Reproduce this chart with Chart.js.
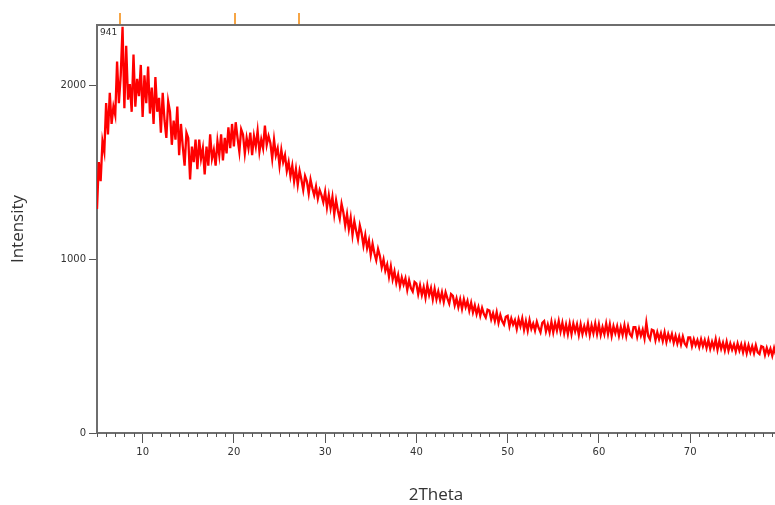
<!DOCTYPE html>
<html>
<head>
<meta charset="utf-8">
<script src="https://cdn.jsdelivr.net/npm/chart.js@4.4.0/dist/chart.umd.min.js"></script>
<style>
  html, body { margin: 0; padding: 0; background: #fff; }
  #wrap { width: 775px; height: 505px; }
</style>
</head>
<body>
<div id="wrap"><canvas id="xrdChart"></canvas></div>
<script>
// scan grid (degrees 2Theta)
const startAngle = 5;
const stepAngle = 0.2;

// intensity, 5 points per degree (5.0 .. 79.4)
const intensity = [
  1290, 1560, 1450, 1680, 1620,   // 5
  1900, 1720, 1960, 1780, 1880,   // 6
  1830, 2140, 1900, 2060, 2340,   // 7
  1870, 2230, 1920, 2010, 1850,   // 8
  2180, 1880, 2040, 1940, 2120,   // 9
  1820, 2060, 1900, 2110, 1840,   // 10
  1990, 1780, 2050, 1850, 1930,   // 11
  1730, 1960, 1800, 1700, 1910,   // 12
  1850, 1660, 1800, 1690, 1880,   // 13
  1600, 1780, 1650, 1540, 1730,   // 14
  1700, 1460, 1650, 1560, 1690,   // 15
  1520, 1690, 1580, 1640, 1490,   // 16
  1650, 1540, 1720, 1580, 1630,   // 17
  1540, 1680, 1600, 1720, 1570,   // 18
  1700, 1610, 1760, 1640, 1780,   // 19
  1650, 1790, 1700, 1620, 1750,   // 20
  1720, 1610, 1700, 1640, 1730,   // 21
  1600, 1710, 1650, 1740, 1620,   // 22
  1690, 1640, 1770, 1660, 1710,   // 23
  1670, 1580, 1690, 1600, 1640,   // 24
  1540, 1630, 1560, 1600, 1510,   // 25
  1560, 1480, 1540, 1450, 1520,   // 26
  1430, 1510, 1460, 1400, 1480,   // 27
  1450, 1380, 1460, 1410, 1370,   // 28
  1420, 1350, 1400, 1370, 1330,   // 29
  1390, 1300, 1370, 1295, 1360,   // 30
  1260, 1340, 1280, 1235, 1320,   // 31
  1270, 1195, 1260, 1175, 1240,   // 32
  1140, 1220, 1165, 1115, 1195,   // 33
  1150, 1080, 1140, 1065, 1110,   // 34
  1025, 1090, 1035, 995, 1060,    // 35
  1020, 955, 1000, 935, 970,      // 36
  900, 960, 885, 930, 865,        // 37
  910, 845, 895, 855, 890,        // 38
  825, 880, 835, 815, 870,        // 39
  860, 800, 850, 795, 840,        // 40
  780, 850, 795, 835, 770,        // 41
  830, 770, 815, 765, 810,        // 42
  755, 810, 775, 745, 800,        // 43
  790, 735, 775, 725, 770,        // 44
  715, 770, 725, 760, 705,        // 45
  750, 695, 735, 685, 725,        // 46
  675, 720, 685, 665, 710,        // 47
  705, 655, 690, 645, 695,        // 48
  635, 680, 645, 625, 670,        // 49
  675, 615, 660, 625, 650,        // 50
  600, 655, 615, 660, 595,        // 51
  645, 590, 650, 600, 630,        // 52
  590, 640, 605, 580, 635,        // 53
  645, 585, 625, 580, 640,        // 54
  580, 635, 590, 645, 585,        // 55
  635, 575, 625, 570, 630,        // 56
  570, 630, 585, 625, 565,        // 57
  625, 570, 615, 575, 630,        // 58
  565, 620, 575, 630, 570,        // 59
  625, 565, 610, 570, 630,        // 60
  570, 625, 560, 615, 575,        // 61
  615, 560, 610, 565, 620,        // 62
  560, 615, 570, 555, 610,        // 63
  610, 555, 600, 560, 595,        // 64
  545, 635, 560, 540, 595,        // 65
  590, 535, 580, 540, 575,        // 66
  530, 580, 525, 570, 535,        // 67
  570, 520, 560, 515, 555,        // 68
  510, 555, 515, 500, 550,        // 69
  550, 500, 540, 505, 535,        // 70
  495, 540, 500, 535, 490,        // 71
  535, 485, 525, 490, 540,        // 72
  480, 530, 485, 520, 475,        // 73
  525, 475, 515, 480, 510,        // 74
  470, 515, 475, 510, 465,        // 75
  510, 460, 505, 465, 500,        // 76
  460, 505, 465, 455, 500,        // 77
  495, 450, 490, 455, 485,        // 78
  445, 490, 450                   // 79
];

const xTickValues = [10, 20, 30, 40, 50, 60, 70];
const yTickValues = [0, 1000, 2000];
const peakMarkers = [7.53, 20.14, 27.18];   // orange reference lines above the frame
const sampleLabel = '941';

const points = intensity.map((v, i) => ({ x: startAngle + i * stepAngle, y: v }));

// frame top, minor ticks, peak markers and sample label
const decorPlugin = {
  id: 'decor',
  afterDraw(chart) {
    const ctx = chart.ctx;
    const area = chart.chartArea;
    const xs = chart.scales.x;
    ctx.save();
    // top border
    ctx.strokeStyle = '#6e6e6e';
    ctx.lineWidth = 2;
    ctx.beginPath();
    ctx.moveTo(area.left - 1, area.top);
    ctx.lineTo(area.right, area.top);
    ctx.stroke();
    // minor ticks every degree
    ctx.lineWidth = 1;
    ctx.strokeStyle = '#555';
    for (let d = Math.ceil(xs.min); d <= xs.max; d++) {
      if (d % 10 === 0) continue;
      const px = Math.round(xs.getPixelForValue(d)) + 0.5;
      ctx.beginPath();
      ctx.moveTo(px, area.bottom);
      ctx.lineTo(px, area.bottom + 4);
      ctx.stroke();
    }
    // peak markers
    ctx.strokeStyle = '#f6a545';
    ctx.lineWidth = 2;
    peakMarkers.forEach(a => {
      const px = Math.round(xs.getPixelForValue(a));
      ctx.beginPath();
      ctx.moveTo(px, area.top - 12);
      ctx.lineTo(px, area.top - 1);
      ctx.stroke();
    });
    // sample label
    ctx.fillStyle = '#333';
    ctx.font = '9px "DejaVu Sans"';
    ctx.textBaseline = 'top';
    ctx.fillText(sampleLabel, area.left + 3, area.top + 3);
    ctx.restore();
  }
};

const ctx = document.getElementById('xrdChart').getContext('2d');
new Chart(ctx, {
  type: 'line',
  data: {
    datasets: [{
      label: '941',
      data: points,
      borderColor: '#ff0000',
      borderWidth: 2.3,
      pointRadius: 0,
      tension: 0,
      fill: false
    }]
  },
  options: {
    responsive: true,
    maintainAspectRatio: false,
    animation: false,
    layout: { padding: { top: 25, right: 0, bottom: 0, left: 0 } },
    plugins: {
      legend: { display: false },
      tooltip: { enabled: false }
    },
    scales: {
      x: {
        type: 'linear',
        min: 5,
        max: 79.3,
        afterBuildTicks: s => { s.ticks = xTickValues.map(v => ({ value: v })); },
        afterFit: s => { s.height = 72; },
        border: { color: '#6e6e6e', width: 2 },
        grid: { drawOnChartArea: false, tickLength: 10, tickColor: '#555', tickWidth: 1 },
        ticks: { color: '#333', font: { family: 'DejaVu Sans', size: 10 }, padding: 3, maxRotation: 0, callback: v => String(v) },
        title: {
          display: true,
          text: '2Theta',
          color: '#333',
          font: { family: 'Open Sans', size: 17 },
          padding: { top: 0, bottom: 0 }
        }
      },
      y: {
        min: 0,
        max: 2350,
        afterBuildTicks: s => { s.ticks = yTickValues.map(v => ({ value: v })); },
        afterFit: s => { s.width = 97; },
        border: { color: '#6e6e6e', width: 2 },
        grid: { drawOnChartArea: false, tickLength: 8, tickColor: '#555', tickWidth: 1 },
        ticks: { color: '#333', font: { family: 'DejaVu Sans', size: 10 }, padding: 3, callback: v => String(v) },
        title: {
          display: true,
          text: 'Intensity',
          color: '#333',
          font: { family: 'Open Sans', size: 17 },
          padding: { top: 8, bottom: 0 }
        }
      }
    }
  },
  plugins: [decorPlugin]
});
</script>
</body>
</html>
